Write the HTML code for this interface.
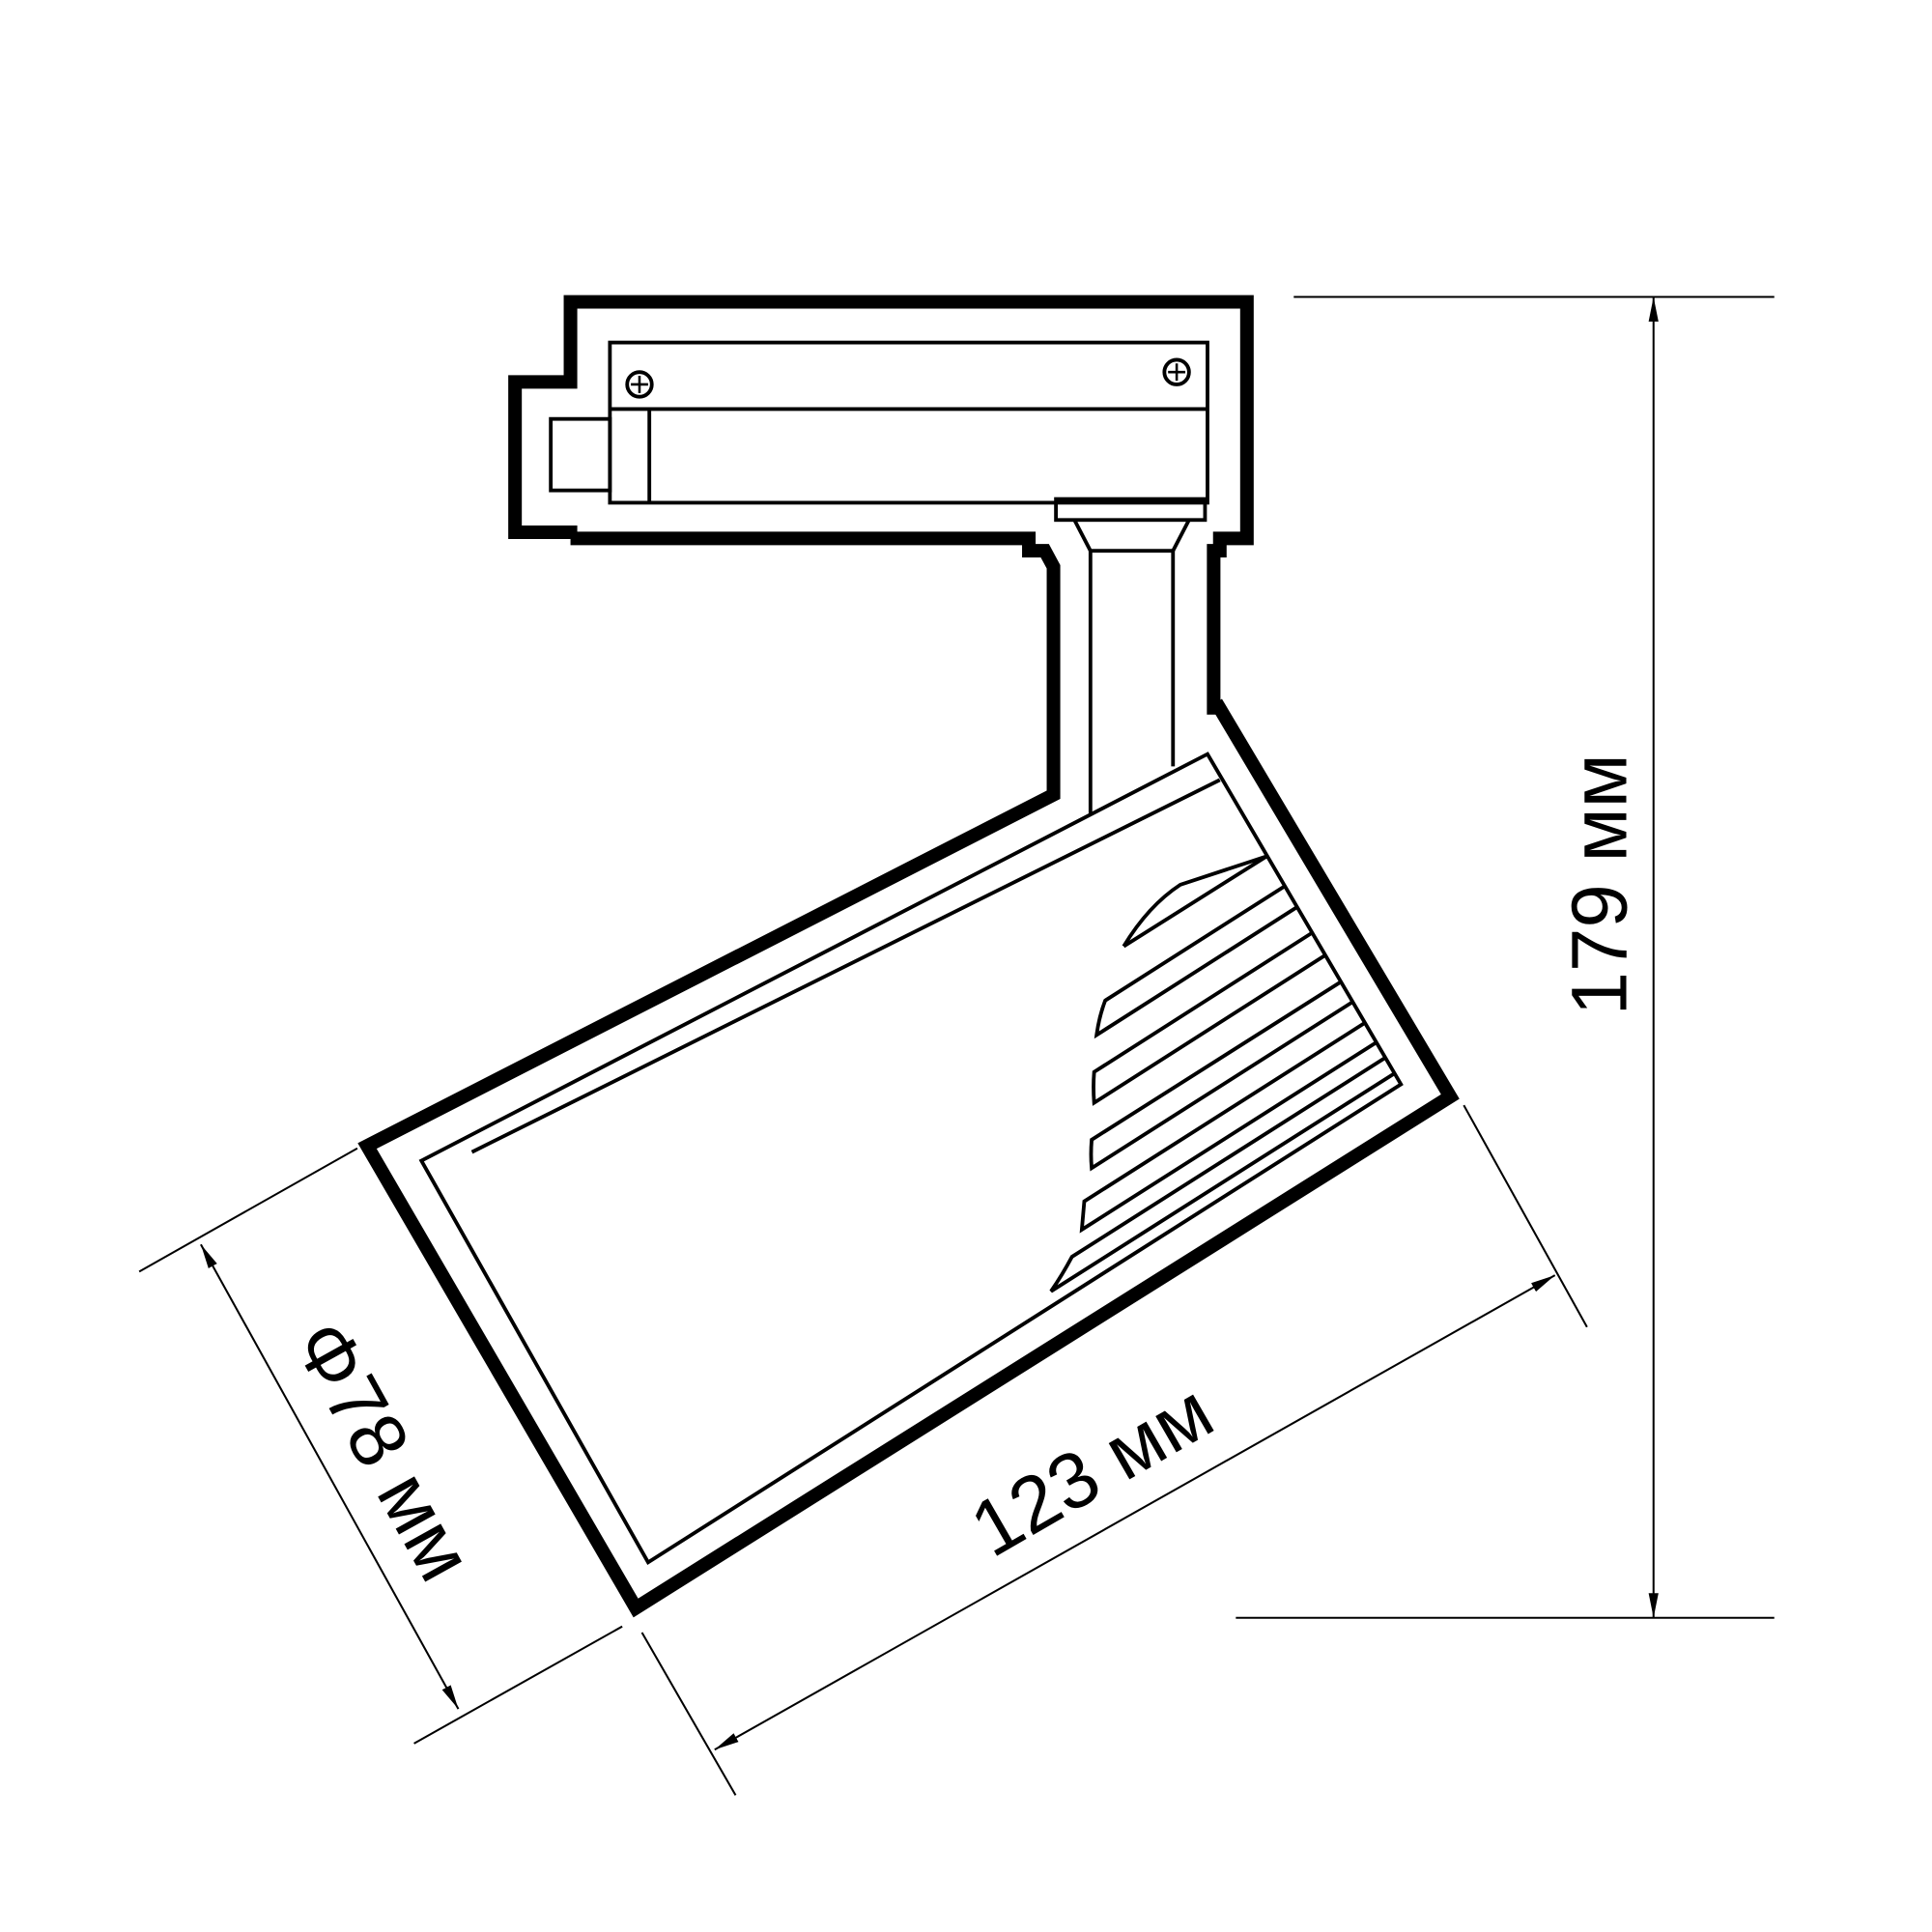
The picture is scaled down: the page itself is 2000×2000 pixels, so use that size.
<!DOCTYPE html>
<html><head><meta charset="utf-8"><style>
html,body{margin:0;padding:0;background:#fff;}
svg{display:block;}
text{font-family:"Liberation Sans",sans-serif;fill:#000;}
</style></head><body>
<svg width="2000" height="2000" viewBox="0 0 1568 1568" xmlns="http://www.w3.org/2000/svg">
<defs>
<marker id="a" viewBox="0 0 20 10" refX="20" refY="5" markerWidth="20" markerHeight="10" markerUnits="userSpaceOnUse" orient="auto-start-reverse">
<path d="M0,1 L20,5 L0,9 Z" fill="#000"/></marker>
</defs>
<g fill="none" stroke="#000" stroke-linejoin="miter">
<path stroke-width="11" d="M463,437 L463,432 L418,432 L418,310 L463,310 L463,245 L1012,245 L1012,437 L990,437 L990,447 L985,447 L985,580"/>
<path stroke-width="11" d="M463,437 L835,437 L835,447 L848,447 L855,460 L855,645 L298,930 L516,1305 L1177,890 L987,570"/>
<g stroke-width="3">
<rect x="495" y="278" width="485" height="130"/>
<line x1="495" y1="332" x2="980" y2="332"/>
<line x1="527" y1="332" x2="527" y2="408"/>
<rect x="447" y="340" width="48" height="58"/>
<rect x="857" y="405" width="121" height="17"/>
<path d="M872,422 L885,447 L952,447 L965,422"/>
<line x1="885" y1="447" x2="885" y2="660"/>
<line x1="952" y1="447" x2="952" y2="622"/>
<circle cx="519" cy="312" r="10"/><circle cx="955" cy="302" r="10"/>
<path d="M512,312 H526 M519,305 V319 M948,302 H962 M955,295 V309" stroke-width="2"/>
<path d="M342,942 L980,612 L1137,880 L526,1268 Z"/>
<line x1="383" y1="935" x2="990" y2="633"/>
<path d="M912,768 Q932,735 958,718 L1028,695"/>
<path d="M912,768 L1028,695"/>
<path d="M1043,719 L897,812 Q892,825 890,840 L1053,736"/>
<path d="M1065,757 L888,870 Q887,882 888,895 L1076,775"/>
<path d="M1088,797 L886,925 Q885,937 886,948 L1098,813"/>
<path d="M1108,830 L880,975 Q879,987 878,998 L1117,846"/>
<path d="M1125,858 L870,1020 Q862,1035 853,1048 L1132,871"/>
</g>
<g stroke-width="1.6">
<line x1="1050" y1="241" x2="1440" y2="241"/>
<line x1="1003" y1="1313" x2="1440" y2="1313"/>
<line x1="1342" y1="241" x2="1342" y2="1313" marker-start="url(#a)" marker-end="url(#a)"/>
<line x1="1188" y1="897" x2="1288" y2="1077"/>
<line x1="521" y1="1325" x2="597" y2="1457"/>
<line x1="580" y1="1420" x2="1262" y2="1035" marker-start="url(#a)" marker-end="url(#a)"/>
<line x1="113" y1="1032" x2="290" y2="932"/>
<line x1="336" y1="1415" x2="505" y2="1320"/>
<line x1="163" y1="1010" x2="372" y2="1387" marker-start="url(#a)" marker-end="url(#a)"/>
</g>
</g>
<text x="0" y="0" font-size="64" text-anchor="middle" transform="translate(1320,718) rotate(-90)">179 мм</text>
<text x="0" y="0" font-size="64" text-anchor="middle" transform="translate(897,1212) rotate(-30)">123 мм</text>
<text x="0" y="0" font-size="64" text-anchor="middle" transform="translate(292,1188) rotate(61)">Φ78 мм</text>
</svg>
</body></html>
